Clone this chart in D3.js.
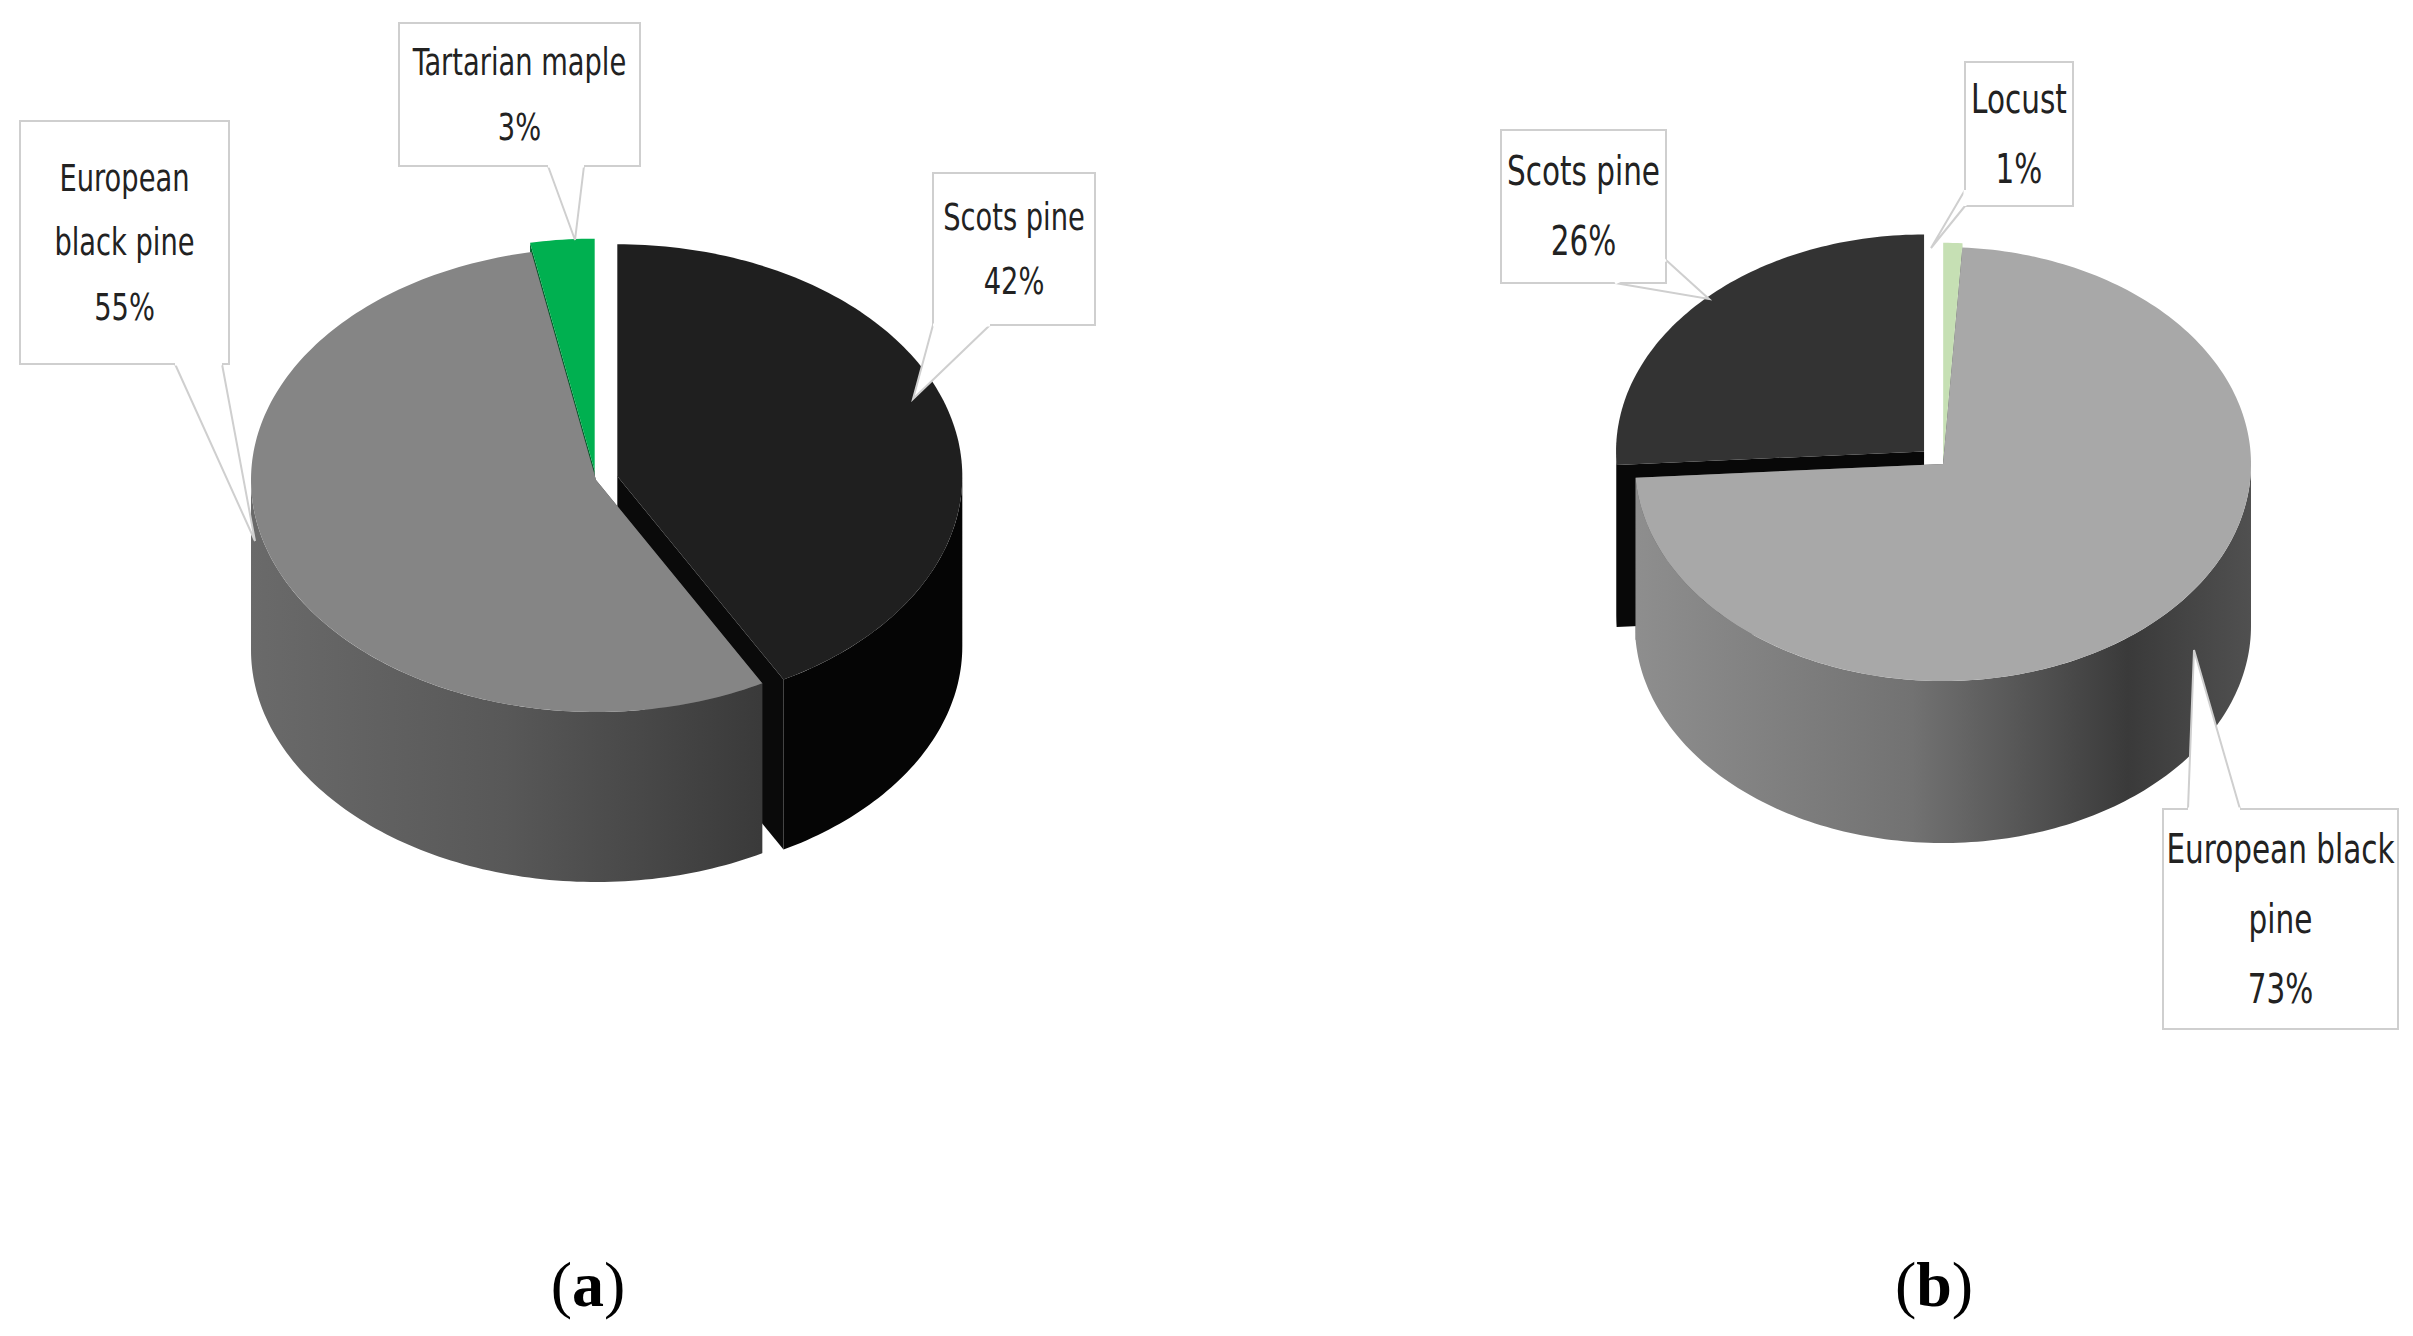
<!DOCTYPE html>
<html><head><meta charset="utf-8">
<script src="https://cdn.jsdelivr.net/npm/d3@7"></script>
<style>body{margin:0;background:#fff}</style>
</head><body>
<svg id="c" width="2413" height="1336"></svg>
<script>
// ---- data ----
const speciesA = ["Scots pine", "European black pine", "Tartarian maple"];
const valuesA = [42, 55, 3];
const labelsA = [["Scots pine","42%"], ["European","black pine","55%"], ["Tartarian maple","3%"]];
const speciesB = ["Locust", "European black pine", "Scots pine"];
const valuesB = [1, 73, 26];
const labelsB = [["Locust","1%"], ["European black","pine","73%"], ["Scots pine","26%"]];
const captions = ["a", "b"];

const svg = d3.select("#c");
const defs = svg.append("defs");
function grad(id, stops, x0, x1){
  const g = defs.append("linearGradient").attr("id", id).attr("gradientUnits","userSpaceOnUse")
    .attr("x1", x0).attr("x2", x1).attr("y1",0).attr("y2",0);
  stops.forEach(s => g.append("stop").attr("offset", s[0]).attr("stop-color", s[1]));
  return `url(#${id})`;
}

function pie3d(cfg){
  const pie = d3.pie().sort(null).value(d => d)(cfg.values);
  const {cx, cy, rx, ry, depth} = cfg;
  const pt = (a, dx, dy, h) => [cx + dx + rx*Math.sin(a), cy + dy - ry*Math.cos(a) + h];
  const g = svg.append("g");
  const items = pie.map((p, i) => {
    const mid = (p.startAngle + p.endAngle)/2;
    const e = cfg.explode[i];
    return {p, i, dx: e*Math.sin(mid), dy: -e*Math.cos(mid)*ry/rx, mid};
  });
  const order = items.slice().sort((a, b) => -Math.cos(a.mid) - -Math.cos(b.mid));
  const line = d3.line();
  const arcPts = (a0, a1, dx, dy, h) => {
    const n = Math.max(2, Math.ceil((a1 - a0) / 0.02));
    return d3.range(n + 1).map(k => pt(a0 + (a1 - a0)*k/n, dx, dy, h));
  };
  order.forEach(it => {
    const {p, i, dx, dy} = it;
    const c = [cx + dx, cy + dy];
    [p.startAngle, p.endAngle].forEach(a => {
      const t = pt(a, dx, dy, 0), b = pt(a, dx, dy, depth);
      g.append("path").attr("d", line([c, t, b, [c[0], c[1] + depth]]) + "Z")
        .attr("fill", cfg.cut[i]);
    });
    const a0 = Math.max(p.startAngle, Math.PI/2), a1 = Math.min(p.endAngle, Math.PI*1.5);
    if (a1 > a0) {
      const top = arcPts(a0, a1, dx, dy, 0), bot = arcPts(a0, a1, dx, dy, depth).reverse();
      g.append("path").attr("d", line(top.concat(bot)) + "Z").attr("fill", cfg.side[i]);
    }
  });
  order.forEach(it => {
    const {p, i, dx, dy} = it;
    const pts = [[cx + dx, cy + dy]].concat(arcPts(p.startAngle, p.endAngle, dx, dy, 0));
    g.append("path").attr("d", line(pts) + "Z").attr("fill", cfg.top[i]);
  });
}

function callout(lines, box, tip, base, fs){
  const g = svg.append("g");
  g.append("path").attr("d", d3.line()([base[0], tip, base[1]]))
    .attr("fill", "#fff").attr("stroke", "#cfcfcf").attr("stroke-width", 2);
  g.append("rect").attr("x", box[0]).attr("y", box[1]).attr("width", box[2]).attr("height", box[3])
    .attr("fill", "#fff").attr("stroke", "#cfcfcf").attr("stroke-width", 2);
  g.append("path").attr("d", d3.line()([base[0], base[1]])).attr("stroke", "#fff").attr("stroke-width", 3);
  const lh = fs * 1.75;
  const y0 = box[1] + box[3]/2 - lh*(lines.length - 1)/2;
  lines.forEach((t, k) => g.append("text").text(t)
    .attr("x", box[0] + box[2]/2).attr("y", y0 + k*lh).attr("dy", "0.35em")
    .attr("text-anchor", "middle").attr("font-family", "DejaVu Sans Condensed, DejaVu Sans")
    .attr("font-stretch", "condensed").attr("font-size", fs).attr("fill", "#222")
    .attr("transform", `translate(${box[0] + box[2]/2},0) scale(0.82,1) translate(${-(box[0] + box[2]/2)},0)`));
}

// ---- chart a ----
const gA = grad("ga", [[0,"#6a6a6a"],[0.5,"#585858"],[1,"#3a3a3a"]], 251, 760);
pie3d({values: valuesA, cx: 596, cy: 480, rx: 345, ry: 232, depth: 170,
  explode: [22, 0, 14],
  top: ["#1f1f1f", "#858585", "#00b050"],
  side: ["#050505", gA, "#006a30"],
  cut: ["#0a0a0a", "#4a4a4a", "#00602a"]});
callout(labelsA[1], [20, 121, 209, 243], [255, 541], [[175, 364], [222, 364]], 37);
callout(labelsA[2], [399, 23, 241, 143], [575, 240], [[548, 166], [584, 166]], 37);
callout(labelsA[0], [933, 173, 162, 152], [913, 399], [[933, 325], [990, 325]], 37);

// ---- chart b ----
const gB = grad("gb", [[0,"#8e8e8e"],[0.45,"#727272"],[0.8,"#3a3a3a"],[1,"#505050"]], 1635, 2251);
pie3d({values: valuesB, cx: 1943, cy: 464, rx: 308, ry: 217, depth: 162,
  explode: [6, 0, 26],
  top: ["#c6e0b4", "#a8a8a8", "#333333"],
  side: ["#a9c797", gB, "#0a0a0a"],
  cut: ["#9fbf8c", "#555555", "#080808"]});
callout(labelsB[2], [1501, 130, 165, 153], [1709, 299], [[1615, 283], [1666, 260]], 40);
callout(labelsB[0], [1965, 62, 108, 144], [1931, 248], [[1965, 190], [1965, 206]], 40);
callout(labelsB[1], [2163, 809, 235, 220], [2194, 650], [[2188, 809], [2240, 809]], 40);

// ---- captions ----
captions.forEach((c, k) => {
  const t = svg.append("text").attr("x", [588, 1934][k]).attr("y", 1284)
    .attr("text-anchor", "middle").attr("font-family", "Liberation Serif, serif")
    .attr("font-size", 64).attr("fill", "#000").attr("dy", "0.35em");
  t.append("tspan").text("(");
  t.append("tspan").text(c).attr("font-weight", "bold");
  t.append("tspan").text(")");
});
</script>
</body></html>
